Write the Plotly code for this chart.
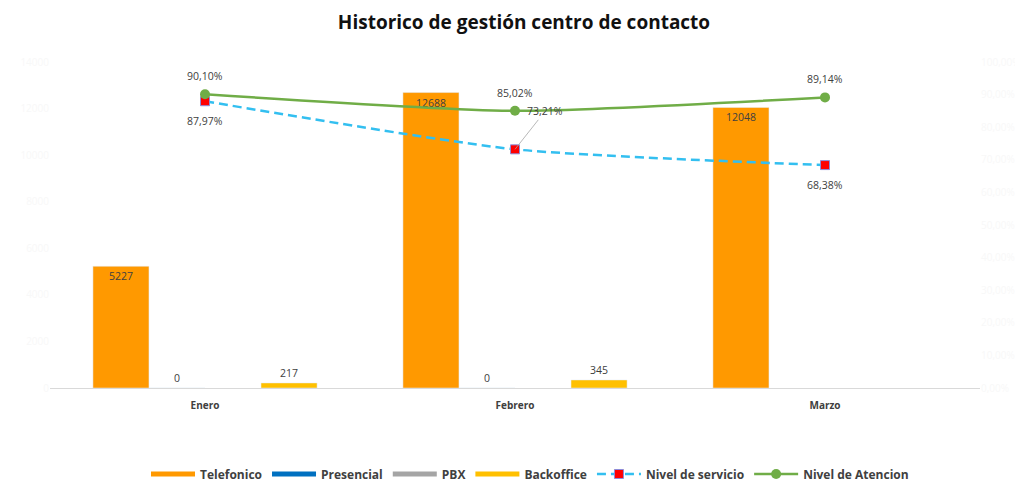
import plotly.graph_objects as go

meses = ["Enero", "Febrero", "Marzo"]
telefonico = [5227, 12688, 12048]
presencial = [0, 0, None]
pbx = [None, None, None]
backoffice = [217, 345, None]
nivel_servicio = [0.8797, 0.7321, 0.6838]
nivel_atencion = [0.9010, 0.8502, 0.8914]

left_ticks = [0, 2000, 4000, 6000, 8000, 10000, 12000, 14000]
right_ticks = [i / 10 for i in range(11)]

bar_names = ["Telefonico", "Presencial", "PBX", "Backoffice"]
bar_colors = ["#FF9900", "#0070C0", "#A5A5A5", "#FFC000"]

W, H = 1015, 478  # page body has an 8px margin inside the 1023x486 window


def pct(v):
    return f"{v*100:.2f}%".replace(".", ",")


def bar_text(vals):
    return ["" if v is None else str(v) for v in vals]


label_font = dict(family="Open Sans", size=10.5, color="#404040")

fig = go.Figure()
fig.add_trace(go.Bar(name="Telefonico", x=meses, y=telefonico, marker_color=bar_colors[0],
                     text=bar_text(telefonico), textposition="inside", insidetextanchor="end",
                     textfont=label_font, textangle=0, showlegend=False, legendgroup="t"))
fig.add_trace(go.Bar(name="Presencial", x=meses, y=presencial, marker_color=bar_colors[1],
                     text=bar_text(presencial), textposition="outside", textfont=label_font,
                     showlegend=False, legendgroup="p"))
fig.add_trace(go.Bar(name="PBX", x=meses, y=pbx, marker_color=bar_colors[2],
                     showlegend=False, legendgroup="x"))
fig.add_trace(go.Bar(name="Backoffice", x=meses, y=backoffice, marker_color=bar_colors[3],
                     text=bar_text(backoffice), textposition="outside", textfont=label_font,
                     showlegend=False, legendgroup="b"))
# legend-only entries drawn as thick bars (Excel style)
for nm, col, grp in zip(bar_names, bar_colors, ["t", "p", "x", "b"]):
    fig.add_trace(go.Scatter(name=nm, x=[None], y=[None], mode="lines",
                             line=dict(color=col, width=5), legendgroup=grp))
fig.add_trace(go.Scatter(name="Nivel de servicio", x=meses, y=nivel_servicio, yaxis="y2",
                         mode="lines+markers",
                         line=dict(color="#33BFF0", width=2.5, dash="9px,5px", shape="spline", smoothing=0.6),
                         marker=dict(symbol="square", size=9, color="#FF0000",
                                     line=dict(color="#8C8CD9", width=1))))
fig.add_trace(go.Scatter(name="Nivel de Atencion", x=meses, y=nivel_atencion, yaxis="y2",
                         mode="lines+markers",
                         line=dict(color="#70AD47", width=2.5, shape="spline", smoothing=0.6),
                         marker=dict(symbol="circle", size=10, color="#70AD47")))

ann = []
for i, (m, v) in enumerate(zip(meses, nivel_atencion)):
    ann.append(dict(x=m, y=v, yref="y2", text=pct(v), showarrow=False, yshift=18, font=label_font))
for i, (m, v) in enumerate(zip(meses, nivel_servicio)):
    if i == 1:
        ann.append(dict(x=m, y=v, yref="y2", text=pct(v), showarrow=True, arrowhead=0,
                        arrowwidth=0.8, arrowcolor="#a6a6a6", ax=30, ay=-38,
                        xanchor="center", font=label_font))
    else:
        ann.append(dict(x=m, y=v, yref="y2", text=pct(v), showarrow=False, yshift=-20, font=label_font))

fig.update_layout(
    width=W, height=H,
    paper_bgcolor="white", plot_bgcolor="white",
    margin=dict(l=42, r=43, t=54, b=98),
    title=dict(text="<b>Historico de gestión centro de contacto</b>", x=516 / W, xanchor="center",
               xref="container", y=1 - 14 / H, yref="container", yanchor="middle",
               font=dict(family="Open Sans", size=19, color="#111111")),
    barmode="group", bargap=0.277, bargroupgap=0,
    font=dict(family="Open Sans", color="#404040"),
    xaxis=dict(showgrid=False, showline=True, linecolor="#d9d9d9", linewidth=1, ticks="",
               tickfont=dict(family="Open Sans", size=10, color="#404040", weight="bold"),
               range=[-0.5, 2.5], automargin=False, ticklabelstandoff=8),
    yaxis=dict(range=[0, 14000], tickvals=left_ticks, tickformat="d", showgrid=False,
               zeroline=False, showline=False, automargin=False,
               tickfont=dict(size=10, color="#f8f8f8")),
    yaxis2=dict(range=[0, 1], tickvals=right_ticks, ticktext=[pct(t) for t in right_ticks],
                overlaying="y", side="right", showgrid=False, zeroline=False, showline=False,
                automargin=False, tickfont=dict(size=10, color="#f8f8f8")),
    legend=dict(orientation="h", x=522 / W, xanchor="center", xref="container",
                y=1 - 466 / H, yref="container", yanchor="middle",
                font=dict(family="Open Sans", size=12, color="#404040", weight="bold"),
                traceorder="normal", itemwidth=44),
    annotations=ann,
    showlegend=True,
)
fig.update_traces(cliponaxis=False, selector=dict(type="bar"))

fig.write_html("out.html")
